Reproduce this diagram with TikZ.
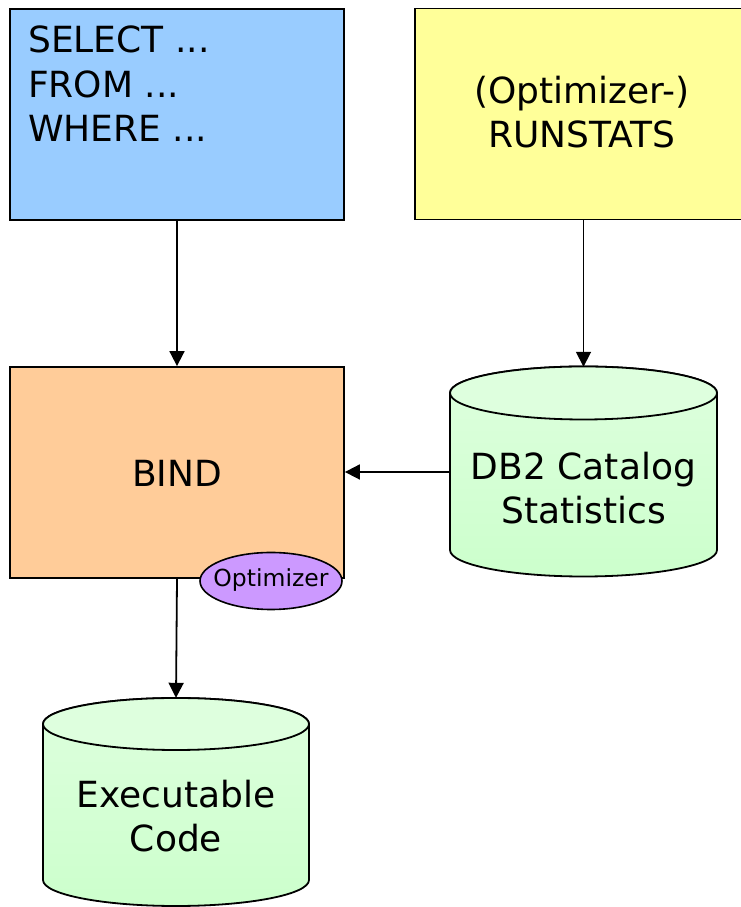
\documentclass[tikz,border=0pt]{standalone}
\usepackage{fontspec}
\setmainfont{DejaVu Sans}
\usetikzlibrary{arrows.meta,shapes.geometric}
\definecolor{cblue}{HTML}{99CCFF}
\definecolor{cyellow}{HTML}{FFFF99}
\definecolor{corange}{HTML}{FFCC99}
\definecolor{cpurple}{HTML}{CC99FF}
\definecolor{cgreen}{HTML}{CCFFCC}
\definecolor{cgreenlt}{HTML}{DEFFDE}
\tikzset{
  box/.style={draw=black, line width=1.8pt, minimum width=334pt, minimum height=211pt, inner sep=0pt},
  big/.style={font=\fontsize{36}{44.5}\selectfont, inner sep=0pt},
  conn/.style={line width=1.8pt, -{Triangle[length=15pt,width=15pt]}},
  cylbody/.style={draw=black, line width=1.8pt, top color=cgreenlt, bottom color=cgreen},
  cyltop/.style={draw=black, line width=1.8pt, fill=cgreenlt},
  hold/.style={inner sep=0pt, draw=none}
}
\begin{document}
\begin{tikzpicture}[x=1pt,y=1pt]
\useasboundingbox (0,0) rectangle (740,907);
% boxes
\node[box, fill=cblue] (sql) at (177,792.5) {};
\node[box, fill=cyellow, minimum width=330pt] (run) at (580,793) {};
\node[box, fill=corange] (bind) at (177,434.5) {};
% texts
\node[big, anchor=base west, align=left] (sqltext) at (28,765) {SELECT ...\\FROM ...\\WHERE ...};
\node[big, anchor=base, align=center] (runtext) at (582,759) {(Optimizer-)\\RUNSTATS};
\node[big, anchor=base] (bindtext) at (177,420) {BIND};
% optimizer ellipse
\draw[line width=1.6pt, fill=cpurple] (271,326) ellipse[x radius=71, y radius=28.5];
\node[inner sep=0pt, font=\fontsize{23.5}{28}\selectfont] (opt) at (271,327) {Optimizer};
% DB2 catalog cylinder
\draw[cylbody] (450,514) -- (450,357) arc[start angle=180,end angle=360,x radius=133.5,y radius=26.5] -- (717,514) arc[start angle=0,end angle=180,x radius=133.5,y radius=26.5] -- cycle;
\draw[cyltop] (583.5,514) ellipse[x radius=133.5,y radius=26.5];
\node[hold, minimum width=267pt, minimum height=210pt] (cat) at (583.5,435) {};
\node[big, anchor=base, align=center] (cattext) at (583.5,383) {DB2 Catalog\\Statistics};
% Executable code cylinder
\draw[cylbody] (43,183) -- (43,27) arc[start angle=180,end angle=360,x radius=133,y radius=26] -- (309,183) arc[start angle=0,end angle=180,x radius=133,y radius=26] -- cycle;
\draw[cyltop] (176,183) ellipse[x radius=133,y radius=26];
\node[hold, minimum width=266pt, minimum height=208pt] (exe) at (176,105) {};
\node[big, anchor=base, align=center] (exetext) at (176,55) {Executable\\Code};
% connectors
\draw[conn] (sql.south) -- (bind.north);
\draw[conn] (cat.north |- run.south) -- (cat.north);
\draw[conn] (cat.west) -- (cat.west -| bind.east);
\draw[conn] (bind.south) -- (exe.north);
\end{tikzpicture}
\end{document}
